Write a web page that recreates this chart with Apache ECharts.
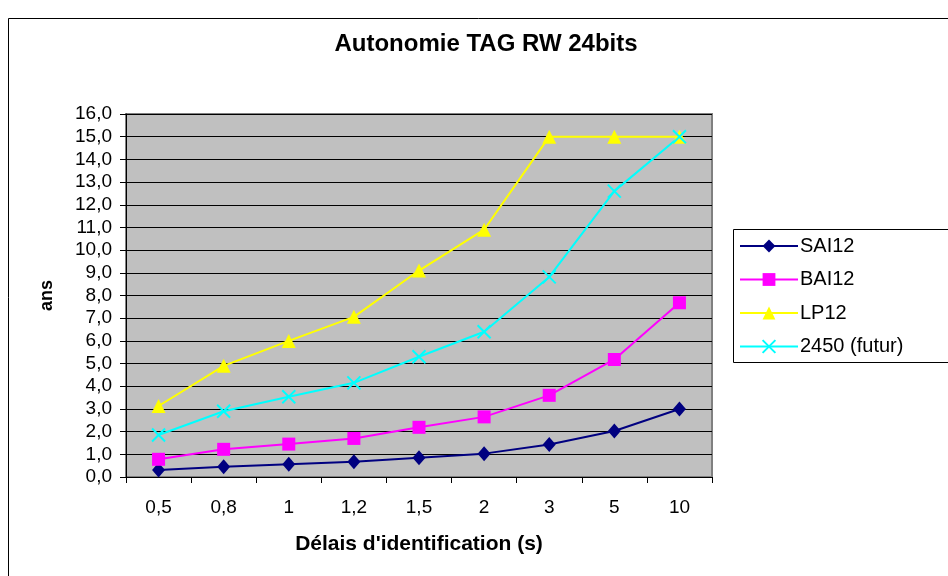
<!DOCTYPE html>
<html>
<head>
<meta charset="utf-8">
<script src="https://cdn.jsdelivr.net/npm/echarts@6/dist/echarts.min.js"></script>
<style>html,body{margin:0;padding:0;background:#fff;}#c{width:948px;height:576px;}</style>
</head>
<body>
<div id="c"></div>
<script>
const categories = ['0,5', '0,8', '1', '1,2', '1,5', '2', '3', '5', '10'];
const sai12 = [0.31, 0.45, 0.56, 0.67, 0.85, 1.03, 1.43, 2.03, 3.0];
const bai12 = [0.78, 1.22, 1.45, 1.7, 2.19, 2.65, 3.6, 5.18, 7.68];
const lp12 = [3.13, 4.9, 6.0, 7.06, 9.1, 10.9, 15.0, 15.0, 15.0];
const futur2450 = [1.85, 2.9, 3.54, 4.15, 5.3, 6.4, 8.82, 12.6, 15.0];
const seriesNames = ['SAI12', 'BAI12', 'LP12', '2450 (futur)'];

const font = 'Liberation Sans, Arial, sans-serif';
const chart = echarts.init(document.getElementById('c'), null, {renderer: 'canvas'});
const crossPath = 'path://M0 0L10 10M10 0L0 10';
chart.setOption({
  animation: false,
  backgroundColor: '#fff',
  title: {
    text: 'Autonomie TAG RW 24bits',
    left: 481, textAlign: 'center', top: 27,
    textStyle: {fontFamily: font, fontSize: 24, fontWeight: 'bold', color: '#000'}
  },
  graphic: [
    {type: 'rect', shape: {x: 8.5, y: 18.5, width: 1000, height: 1000}, style: {fill: 'none', stroke: '#000', lineWidth: 1}, silent: true},
    {type: 'rect', shape: {x: 733.5, y: 229.5, width: 300, height: 133}, style: {fill: '#fff', stroke: '#000', lineWidth: 1}, silent: true, z: -1}
  ],
  legend: {
    orient: 'vertical', left: 739, top: 236,
    itemWidth: 58, itemHeight: 16, itemGap: 13.5, padding: 0,
    textStyle: {fontFamily: font, fontSize: 20, color: '#000', padding: [0, 0, 0, -3]},
    data: seriesNames
  },
  grid: {left: 126, top: 114, right: 236, bottom: 99, show: true, backgroundColor: '#c0c0c0', borderColor: '#808080', borderWidth: 2},
  xAxis: {
    type: 'category', data: categories, boundaryGap: true,
    axisLine: {lineStyle: {color: '#000', width: 1}},
    axisTick: {show: true, inside: false, length: 6, lineStyle: {color: '#000'}},
    axisLabel: {fontFamily: font, fontSize: 19, color: '#000', margin: 21},
    name: "Délais d'identification (s)", nameLocation: 'middle', nameGap: 57,
    nameTextStyle: {fontFamily: font, fontSize: 21, fontWeight: 'bold', color: '#000'}
  },
  yAxis: {
    type: 'value', min: 0, max: 16, interval: 1,
    axisLine: {show: true, lineStyle: {color: '#000', width: 1}},
    axisTick: {show: true, inside: false, length: 6, lineStyle: {color: '#000'}},
    axisLabel: {fontFamily: font, fontSize: 19, color: '#000', margin: 14, formatter: v => v.toFixed(1).replace('.', ',')},
    splitLine: {show: true, lineStyle: {color: '#000', width: 1}},
    name: 'ans', nameLocation: 'middle', nameGap: 70, nameRotate: 90,
    nameTextStyle: {fontFamily: font, fontSize: 18, fontWeight: 'bold', color: '#000'}
  },
  series: [
    {name: seriesNames[0], type: 'line', data: sai12, symbol: 'diamond', symbolSize: [13, 15],
     lineStyle: {color: '#000080', width: 2}, itemStyle: {color: '#000080'}},
    {name: seriesNames[1], type: 'line', data: bai12, symbol: 'rect', symbolSize: 13,
     lineStyle: {color: '#ff00ff', width: 2}, itemStyle: {color: '#ff00ff'}},
    {name: seriesNames[2], type: 'line', data: lp12, symbol: 'triangle', symbolSize: 14,
     lineStyle: {color: '#ffff00', width: 2}, itemStyle: {color: '#ffff00'}},
    {name: seriesNames[3], type: 'line', data: futur2450, symbol: crossPath, symbolSize: 13,
     lineStyle: {color: '#00ffff', width: 2}, itemStyle: {color: 'rgba(0,0,0,0)', borderColor: '#00ffff', borderWidth: 2}}
  ]
});
</script>
</body>
</html>
